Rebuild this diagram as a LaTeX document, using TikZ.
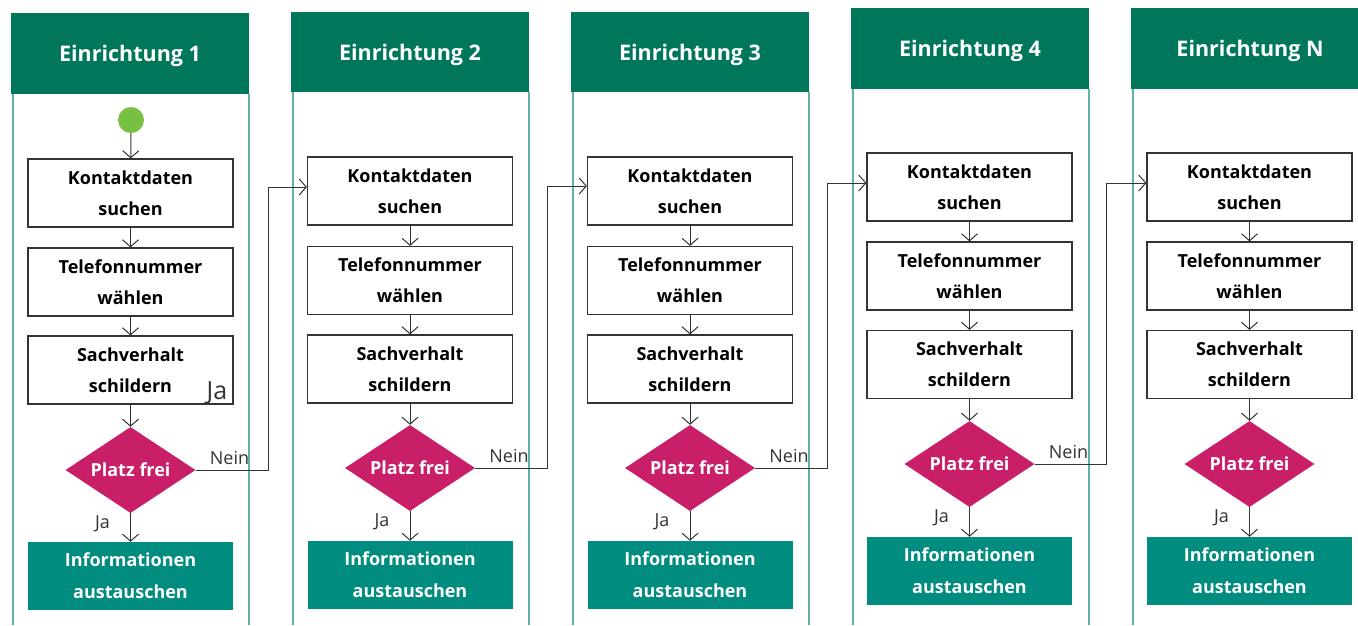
\documentclass[tikz,border=0pt]{standalone}
\usepackage{fontspec}
\setmainfont{Open Sans}
\usetikzlibrary{arrows.meta,shapes.geometric,calc}
\definecolor{hdr}{HTML}{00775A}
\definecolor{lanec}{HTML}{5FB3A0}
\definecolor{dia}{HTML}{C81F68}
\definecolor{info}{HTML}{008C7E}
\definecolor{startc}{HTML}{77C043}
\definecolor{ln}{HTML}{333333}
\tikzset{
  header/.style={fill=hdr, text=white, inner sep=0pt, text depth=0pt,
    font=\fontsize{21.5}{24}\selectfont\bfseries},
  laneline/.style={draw=lanec, line width=1.5pt},
  stepbox/.style={draw=ln, line width=1.2pt, fill=white, minimum width=205pt, minimum height=68pt,
    inner sep=0pt, align=center, text=black,
    font=\fontsize{18}{31}\selectfont\bfseries},
  infobox/.style={fill=info, minimum width=205pt, minimum height=68pt, inner sep=0pt,
    align=center, text=white,
    font=\fontsize{18}{32}\selectfont\bfseries},
  decision/.style={diamond, fill=dia, aspect=1.5, minimum width=130pt, minimum height=86pt,
    inner sep=0pt, text=white,
    font=\fontsize{18}{20}\selectfont\bfseries},
  startnode/.style={circle, fill=startc, minimum size=26pt, inner sep=0pt},
  arr/.style={draw=ln, line width=1pt, -{Straight Barb[length=7pt,width=16pt]}},
  lbl/.style={text=ln, inner sep=0pt, font=\fontsize{18}{20}\selectfont},
}
\begin{document}
\begin{tikzpicture}[x=1pt,y=1pt]
\useasboundingbox (0,0) rectangle (1358,-625);
\fill[white] (0,0) rectangle (1358,-625);
\foreach \i/\hx/\hy/\hhh/\cx/\ky/\ty/\sy/\dy/\iy/\lab in {
  1/11/13/81/130.5/193/282/370/470/576/1,
  2/291/12/80/410/191/280.5/369/468/575/2,
  3/571/12/80/690/191/280.5/369/468/575/3,
  4/851/8/81/969.5/187/276/364.5/464/571/4,
  5/1131/8/81/1249.5/187/276/364.5/464/571/N}{
  \node[header, minimum width=238pt, minimum height=\hhh pt] (h\i) at ({\hx+119},{-\hy-\hhh/2}) {Einrichtung \lab};
  \draw[laneline] ({\hx+2},{-\hy-\hhh}) -- ({\hx+2},-625);
  \node[stepbox] (k\i) at (\cx,-\ky) {Kontaktdaten\\suchen};
  \node[stepbox] (t\i) at (\cx,-\ty) {Telefonnummer\\wählen};
  \node[stepbox] (s\i) at (\cx,-\sy) {Sachverhalt\\schildern};
  \node[decision] (d\i) at (\cx,-\dy) {Platz frei};
  \node[infobox] (i\i) at (\cx,-\iy) {Informationen\\austauschen};
  \draw[arr] (k\i) -- (t\i);
  \draw[arr] (t\i) -- (s\i);
  \draw[arr] (s\i) -- (d\i);
  \draw[arr] (d\i) -- (i\i);
  \node[lbl] (ja\i) at ($(d\i.south)!0.5!(i\i.north)+(-28,4)$) {Ja};
}
\foreach \i in {1,2,3,4}{
  \draw[laneline] (h\i.south east) -- (h\i.south east |- 0,-625);
}
\node[startnode] (st) at (131,-120) {};
\draw[arr] (st) -- (k1);
\node[lbl, font=\fontsize{25}{28}\selectfont] (jabox) at (217,-393) {Ja};
% Nein connectors
\coordinate (m1) at (268,-187);
\coordinate (m2) at (547,-186);
\coordinate (m3) at (827,-183);
\coordinate (m4) at (1106,-183);
\draw[arr] (d1.east) -| (m1) -- (m1 -| k2.west);
\draw[arr] (d2.east) -| (m2) -- (m2 -| k3.west);
\draw[arr] (d3.east) -| (m3) -- (m3 -| k4.west);
\draw[arr] (d4.east) -| (m4) -- (m4 -| k5.west);
\foreach \i in {1,2,3,4}{
  \node[lbl, anchor=base west] (nein\i) at ($(d\i.east)+(14,6)$) {Nein};
}
\end{tikzpicture}
\end{document}
